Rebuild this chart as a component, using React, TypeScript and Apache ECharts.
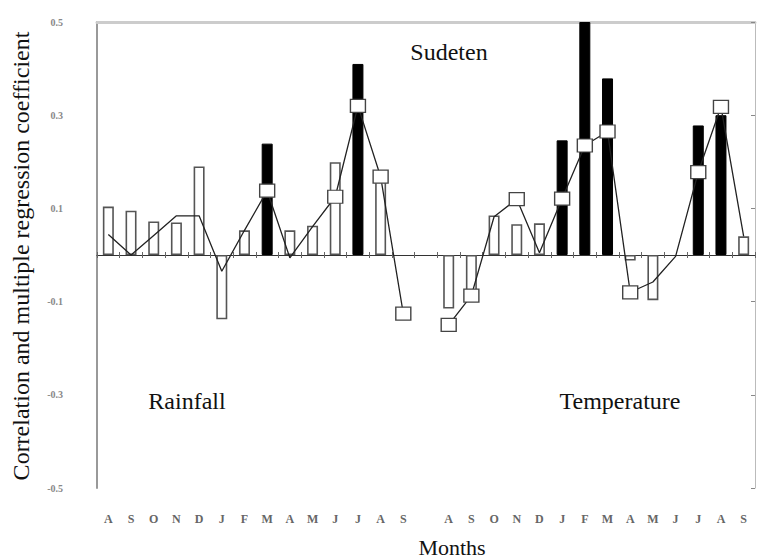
import React, { useEffect, useRef } from "react";
import * as echarts from "echarts";

const months = ["A", "S", "O", "N", "D", "J", "F", "M", "A", "M", "J", "J", "A", "S"];
const categories = [...months, "", ...months];

// Rainfall (August..September)
const rainfallBars: (number | null)[] = [0.104, 0.095, 0.072, 0.07, 0.19, -0.138, 0.053, 0.239, 0.053, 0.063, 0.199, 0.41, 0.165, null];
const rainfallSignificant = [0, 0, 0, 0, 0, 0, 0, 1, 0, 0, 0, 1, 0, 0];
const rainfallRegression = [0.044, 0.0, 0.042, 0.084, 0.084, -0.035, 0.053, 0.138, -0.006, 0.061, 0.125, 0.32, 0.168, -0.126];
const rainfallMarked = [0, 0, 0, 0, 0, 0, 0, 1, 0, 0, 1, 1, 1, 1];

// Temperature (August..September)
const temperatureBars: (number | null)[] = [-0.115, -0.1, 0.085, 0.066, 0.068, 0.246, 0.5, 0.379, -0.012, -0.097, null, 0.278, 0.3, 0.04];
const temperatureSignificant = [0, 0, 0, 0, 0, 1, 1, 1, 0, 0, 0, 1, 1, 0];
const temperatureRegression = [-0.15, -0.087, 0.082, 0.12, 0.005, 0.121, 0.235, 0.265, -0.08, -0.058, -0.003, 0.178, 0.318, 0.04];
const temperatureMarked = [1, 1, 0, 1, 0, 1, 1, 1, 1, 0, 0, 1, 1, 0];

const yTicks = [-0.5, -0.3, -0.1, 0.1, 0.3, 0.5];

const SERIF = '"Liberation Serif", "Times New Roman", serif';

function barItem(v: number | null, black: number) {
  if (v === null) return "-";
  return {
    value: v,
    itemStyle: black
      ? { color: "#000", borderColor: "#000", borderWidth: 1 }
      : { color: "#fff", borderColor: "#555", borderWidth: 1.6 },
  };
}

function lineItem(v: number, marked: number) {
  return { value: v, symbol: marked ? "rect" : "none" };
}

export default function App() {
  const ref = useRef<HTMLDivElement>(null);
  useEffect(() => {
    if (!ref.current) return;
    const chart = echarts.init(ref.current, null, { renderer: "svg" });
    const blank = "-";
    const barData = [
      ...rainfallBars.map((v, i) => barItem(v, rainfallSignificant[i])),
      blank,
      ...temperatureBars.map((v, i) => barItem(v, temperatureSignificant[i])),
    ];
    const rainLine = [
      ...rainfallRegression.map((v, i) => lineItem(v, rainfallMarked[i])),
      ...new Array(15).fill(blank),
    ];
    const tempLine = [
      ...new Array(15).fill(blank),
      ...temperatureRegression.map((v, i) => lineItem(v, temperatureMarked[i])),
    ];
    const lineCommon = {
      type: "line" as const,
      xAxisIndex: 0,
      yAxisIndex: 0,
      symbol: "rect",
      symbolSize: [15, 13],
      showAllSymbol: true,
      connectNulls: false,
      z: 5,
      lineStyle: { color: "#222", width: 1.3 },
      itemStyle: { color: "#fff", borderColor: "#444", borderWidth: 1.3 },
    };
    const textStyle = (text: string, size: number) => ({
      text,
      font: `${size}px ${SERIF}`,
      fill: "#111",
      align: "center",
      verticalAlign: "middle",
    });
    chart.setOption({
      animation: false,
      backgroundColor: "#fff",
      grid: { left: 97, right: 2, top: 22, bottom: 71 },
      xAxis: [
        {
          type: "category",
          data: categories,
          position: "bottom",
          axisLine: { show: false, onZero: false },
          axisTick: { show: false },
          axisLabel: {
            interval: 0,
            margin: 25,
            color: "#666",
            fontSize: 12,
            fontWeight: "bold",
            fontFamily: SERIF,
          },
        },
        {
          type: "category",
          data: categories,
          position: "top",
          axisLine: { show: true, onZero: true, lineStyle: { color: "#333", width: 1.2 } },
          axisTick: { show: true, length: 3, lineStyle: { color: "#666" } },
          axisLabel: { show: false },
        },
        {
          type: "category",
          data: categories,
          position: "top",
          axisLine: { show: true, onZero: false, lineStyle: { color: "#ccc", width: 3 } },
          axisTick: { show: false },
          axisLabel: { show: false },
        },
        {
          type: "category",
          data: categories,
          position: "bottom",
          axisLine: { show: false, onZero: true },
          axisTick: { show: true, length: 3, lineStyle: { color: "#666" } },
          axisLabel: { show: false },
        },
      ],
      yAxis: [
        {
          type: "value",
          min: -0.5,
          max: 0.5,
          position: "left",
          splitLine: { show: false },
          axisLine: { show: true, lineStyle: { color: "#999", width: 2 } },
          axisTick: { show: false },
          axisLabel: {
            customValues: yTicks,
            formatter: (v: number) => v.toFixed(1),
            margin: 34,
            color: "#888",
            fontSize: 10,
            fontWeight: "bold",
            fontFamily: SERIF,
          },
        },
        {
          type: "value",
          min: -0.5,
          max: 0.5,
          position: "right",
          splitLine: { show: false },
          axisLine: { show: true, lineStyle: { color: "#bbb", width: 1 } },
          axisTick: { show: true, inside: true, length: 4, customValues: yTicks, lineStyle: { color: "#888" } },
          axisLabel: { show: false },
        },
      ],
      series: [
        {
          type: "bar",
          xAxisIndex: 0,
          yAxisIndex: 0,
          barWidth: 11,
          data: barData,
          z: 2,
        },
        { ...lineCommon, name: "Rainfall", data: rainLine },
        { ...lineCommon, name: "Temperature", data: tempLine },
      ],
      graphic: [
        { type: "text", x: 449, y: 52, style: textStyle("Sudeten", 24) },
        { type: "text", x: 187, y: 401, style: textStyle("Rainfall", 24) },
        { type: "text", x: 620, y: 401, style: textStyle("Temperature", 24) },
        { type: "text", x: 452, y: 547, style: textStyle("Months", 22) },
        {
          type: "text",
          x: 21,
          y: 256,
          rotation: Math.PI / 2,
          style: textStyle("Correlation and multiple regression coefficient", 24),
        },
      ],
    });
    return () => chart.dispose();
  }, []);
  return <div ref={ref} style={{ position: "fixed", left: 0, top: 0, width: 757, height: 559 }} />;
}
